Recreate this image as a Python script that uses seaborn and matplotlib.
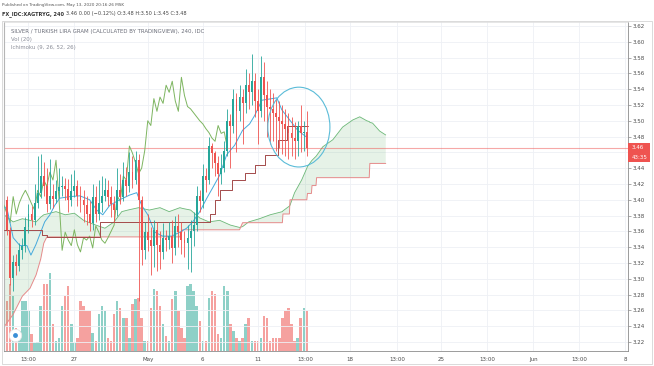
import numpy as np
import pandas as pd
import seaborn as sns
import matplotlib.pyplot as plt
import matplotlib.transforms as mtransforms
from matplotlib.patches import Ellipse, Rectangle

# 4h bars, bar 0 = May 1 00:00 (weekends skipped)
first_bar = -46
first_open = 3.400
close = [3.362, 3.301, 3.321, 3.316, 3.336, 3.341, 3.366, 3.382, 3.374, 3.396,
         3.409, 3.430, 3.417, 3.395, 3.405, 3.401, 3.411, 3.416, 3.417, 3.414,
         3.400, 3.411, 3.417, 3.405, 3.400, 3.393, 3.382, 3.371, 3.404, 3.382,
         3.396, 3.405, 3.412, 3.404, 3.395, 3.387, 3.412, 3.404, 3.425, 3.417,
         3.435, 3.425, 3.450, 3.400, 3.336, 3.359, 3.349, 3.342, 3.362, 3.343,
         3.334, 3.352, 3.349, 3.354, 3.339, 3.367, 3.359, 3.349, 3.345, 3.352,
         3.360, 3.368, 3.405, 3.398, 3.430, 3.425, 3.468, 3.459, 3.447, 3.433,
         3.440, 3.462, 3.500, 3.494, 3.528, 3.512, 3.530, 3.522, 3.545, 3.536,
         3.550, 3.525, 3.512, 3.555, 3.532, 3.518, 3.515, 3.510, 3.505, 3.500,
         3.496, 3.490, 3.485, 3.478, 3.474, 3.494, 3.484, 3.486, 3.466]
high = [3.405, 3.366, 3.330, 3.332, 3.345, 3.352, 3.378, 3.395, 3.392, 3.420,
        3.455, 3.458, 3.448, 3.440, 3.452, 3.420, 3.425, 3.440, 3.430, 3.428,
        3.426, 3.432, 3.438, 3.425, 3.418, 3.412, 3.405, 3.398, 3.420, 3.418,
        3.425, 3.430, 3.428, 3.425, 3.418, 3.405, 3.440, 3.432, 3.448, 3.442,
        3.460, 3.455, 3.462, 3.458, 3.405, 3.372, 3.382, 3.365, 3.375, 3.372,
        3.360, 3.370, 3.362, 3.372, 3.375, 3.380, 3.382, 3.372, 3.360, 3.368,
        3.375, 3.385, 3.418, 3.412, 3.445, 3.440, 3.480, 3.472, 3.462, 3.455,
        3.458, 3.475, 3.515, 3.508, 3.540, 3.535, 3.545, 3.540, 3.565, 3.560,
        3.585, 3.560, 3.540, 3.582, 3.575, 3.550, 3.540, 3.535, 3.528, 3.525,
        3.520, 3.515, 3.510, 3.505, 3.498, 3.500, 3.520, 3.500, 3.512]
low = [3.356, 3.292, 3.285, 3.305, 3.310, 3.325, 3.334, 3.358, 3.365, 3.368,
       3.390, 3.402, 3.405, 3.385, 3.388, 3.390, 3.396, 3.402, 3.405, 3.400,
       3.385, 3.392, 3.403, 3.392, 3.385, 3.372, 3.368, 3.360, 3.362, 3.372,
       3.375, 3.385, 3.398, 3.392, 3.378, 3.372, 3.380, 3.395, 3.398, 3.405,
       3.410, 3.415, 3.420, 3.272, 3.318, 3.325, 3.335, 3.305, 3.315, 3.310,
       3.312, 3.325, 3.335, 3.338, 3.320, 3.330, 3.340, 3.332, 3.328, 3.312,
       3.308, 3.342, 3.360, 3.385, 3.390, 3.410, 3.420, 3.440, 3.430, 3.405,
       3.420, 3.435, 3.455, 3.440, 3.485, 3.460, 3.500, 3.470, 3.510, 3.515,
       3.520, 3.505, 3.470, 3.505, 3.500, 3.480, 3.470, 3.475, 3.462, 3.465,
       3.458, 3.455, 3.452, 3.455, 3.452, 3.455, 3.460, 3.462, 3.455]
volume = [50, 67, 55, 23, 20, 50, 50, 40, 17, 8,
          9, 45, 67, 67, 78, 27, 10, 13, 45, 55,
          65, 27, 8, 13, 50, 45, 40, 40, 18, 10,
          37, 45, 40, 13, 10, 37, 50, 43, 33, 33,
          13, 47, 52, 53, 33, 10, 10, 43, 62, 60,
          45, 27, 15, 10, 52, 60, 40, 23, 13, 65,
          67, 60, 45, 30, 10, 10, 53, 60, 57, 17,
          13, 65, 60, 27, 20, 13, 10, 13, 27, 33,
          10, 10, 10, 13, 35, 33, 10, 13, 13, 13,
          33, 40, 43, 27, 10, 13, 33, 43, 40]

# Ichimoku (9, 26, 52, 26) lines
tenkan_x = [-46.7, -45.8, -44, -41.8, -39.5, -38.2, -36.6, -35, -33.7, -32,
            -30.4, -28.8, -25.5, -22.2, -19, -16.7, -14.7, -12.4, -9.2, -5.9,
            -3.6, -2, 0, 2.3, 4.9, 7.8, 10.5, 12.7, 14.7, 17,
            19.3, 21.2, 23.5, 25.8, 28.4, 31, 33.3, 35, 37.3, 42.2,
            43.8, 46.4, 49, 52]
tenkan = [3.391, 3.385, 3.352, 3.342, 3.342, 3.330, 3.343, 3.359, 3.372, 3.381,
          3.393, 3.402, 3.404, 3.405, 3.400, 3.387, 3.381, 3.393, 3.400, 3.406,
          3.409, 3.393, 3.381, 3.359, 3.354, 3.354, 3.359, 3.364, 3.372, 3.385,
          3.402, 3.415, 3.431, 3.457, 3.469, 3.488, 3.496, 3.507, 3.526, 3.529,
          3.514, 3.501, 3.488, 3.479]
kijun_x = [-47, -34.6, -33, -15.7, 20.3, 21.9, 23.5, 27.5, 31.7, 35, 38.2, 42.5, 45.4, 52.5]
kijun = [3.362, 3.356, 3.353, 3.372, 3.382, 3.400, 3.412, 3.425, 3.434, 3.444, 3.457, 3.476, 3.493, 3.493]
cloud_x = [-47, -44, -41, -38.5, -36.5, -35, -34, -33, -30, -27,
           -24, -21, -17, -14, -11, -8.5, -6.5, -3, 0.5, 4,
           7, 10.5, 11.4, 14, 17, 20, 23.5, 27, 30, 31,
           33, 36.5, 40, 44, 44.2, 46.3, 46.5, 48, 50.3, 52,
           52.2, 53.5, 53.7, 55, 55.2, 57.2, 60.5, 63.7, 67, 69.3,
           71.6, 72.4, 72.6, 73.5, 75.8, 77.8]
span_a = [3.381, 3.372, 3.376, 3.374, 3.372, 3.378, 3.381, 3.382, 3.385, 3.381,
          3.383, 3.374, 3.368, 3.364, 3.372, 3.385, 3.387, 3.390, 3.387, 3.390,
          3.385, 3.390, 3.389, 3.387, 3.377, 3.372, 3.374, 3.368, 3.365, 3.366,
          3.372, 3.376, 3.381, 3.385, 3.386, 3.392, 3.393, 3.409, 3.425, 3.440,
          3.442, 3.449, 3.450, 3.455, 3.456, 3.467, 3.476, 3.492, 3.501, 3.505,
          3.500, 3.499, 3.498, 3.497, 3.487, 3.482]
span_b = [3.239, 3.255, 3.278, 3.288, 3.305, 3.325, 3.345, 3.353, 3.353, 3.353,
          3.353, 3.353, 3.353, 3.353, 3.353, 3.353, 3.353, 3.353, 3.353, 3.353,
          3.353, 3.353, 3.362, 3.362, 3.362, 3.362, 3.362, 3.362, 3.362, 3.371,
          3.371, 3.371, 3.371, 3.371, 3.382, 3.382, 3.400, 3.400, 3.400, 3.400,
          3.408, 3.408, 3.418, 3.418, 3.428, 3.428, 3.428, 3.428, 3.428, 3.428,
          3.428, 3.428, 3.446, 3.446, 3.446, 3.446]
chikou_shift = 26

price_ticks = [3.22, 3.24, 3.26, 3.28, 3.30, 3.32, 3.34, 3.36, 3.38, 3.40, 3.42,
               3.44, 3.46, 3.48, 3.50, 3.52, 3.54, 3.56, 3.58, 3.60, 3.62]
date_ticks = [-39, -24, 0, 18, 36, 51.5, 66, 81.5, 96, 111, 126, 141, 156]
date_labels = ["13:00", "27", "May", "6", "11", "13:00", "18", "13:00", "25",
               "13:00", "Jun", "13:00", "8"]
last_price = 3.466

# dataframe
n = len(close)
df = pd.DataFrame({"bar": np.arange(first_bar, first_bar + n), "close": close,
                   "high": high, "low": low, "volume": volume})
df["open"] = [first_open] + close[:-1]
df["dir"] = np.where(df["close"] >= df["open"], "up", "down")

up_c, down_c = "#26a69a", "#ef5350"

sns.set_style("white")
plt.rcParams["font.family"] = ["DejaVu Sans"]

W, H = 654, 366
fig = plt.figure(figsize=(W / 100, H / 100), dpi=100)
ax = fig.add_axes([4 / W, 15 / H, 624 / W, 329 / H])
axv = ax.twinx()
ax.set_zorder(axv.get_zorder() + 1)
ax.patch.set_visible(False)

# volume (own scale underneath the price pane)
vol_colors = np.where(df["dir"] == "up", "#8ed0c7", "#f5a19f")
axv.bar(df["bar"], df["volume"], width=0.8, color=vol_colors, lw=0)
axv.set_ylim(0, 329)
axv.set_yticks([])
for s in axv.spines.values():
    s.set_visible(False)

# cloud
ca, cb = np.array(span_a), np.array(span_b)
ax.fill_between(cloud_x, ca, cb, where=ca >= cb, interpolate=True,
                color="#43a047", alpha=0.13, lw=0, zorder=1)
ax.fill_between(cloud_x, ca, cb, where=ca < cb, interpolate=True,
                color="#f44336", alpha=0.13, lw=0, zorder=1)
sns.lineplot(x=cloud_x, y=span_a, color="#6cb878", lw=0.6, ax=ax, zorder=2)
sns.lineplot(x=cloud_x, y=span_b, color="#e58a8a", lw=0.7, ax=ax, zorder=2)

# lagging span, conversion and base lines
sns.lineplot(x=df["bar"] - chikou_shift, y=df["close"], color="#7db560", lw=0.7,
             ax=ax, zorder=3)
sns.lineplot(x=tenkan_x, y=tenkan, color="#45a9dc", lw=0.7, ax=ax, zorder=3)
sns.lineplot(x=kijun_x, y=kijun, color="#a34a4a", lw=0.7, drawstyle="steps-post",
             ax=ax, zorder=3)

# candles
colors = np.where(df["dir"] == "up", up_c, down_c)
ax.vlines(df["bar"], df["low"], df["high"], colors=colors, lw=0.6, zorder=4)
body_lo = np.minimum(df["open"], df["close"])
body_h = np.maximum(np.abs(df["close"] - df["open"]), 0.0015)
ax.bar(df["bar"], body_h, bottom=body_lo, width=0.62, color=colors, lw=0, zorder=5)

# last price line and hand drawn circle
ax.axhline(last_price, color="#ef5350", lw=0.8, alpha=0.5, zorder=2)
ax.add_patch(Ellipse((49.4, 3.492), 20.3, 0.101, fill=False, ec="#5bbcd8",
                     lw=0.8, zorder=6))

# tradingview logo
ax.plot([-43.5], [3.229], marker="o", ms=9, mfc="white", mec="#e4e4e4", mew=0.5,
        zorder=7, clip_on=False)
ax.plot([-43.5], [3.229], marker="o", ms=3.5, mfc="#3a8fd6", mec="none", zorder=8)

ax.set_xlim(-47, 157)
ax.set_ylim(3.2086, 3.625)
ax.set_xticks(date_ticks)
ax.set_xticklabels(date_labels)
ax.set_yticks(price_ticks)
ax.set_yticklabels([f"{v:.2f}" for v in price_ticks])
ax.yaxis.tick_right()
ax.set_xlabel("")
ax.set_ylabel("")
ax.grid(True, color="#eef0f5", lw=0.6)
ax.tick_params(axis="y", labelsize=4, length=2, width=0.5, color="#888",
               pad=1.5, labelcolor="#4a4a4a")
ax.tick_params(axis="x", labelsize=4, length=0, pad=4, labelcolor="#4a4a4a")
for side in ["right", "bottom"]:
    ax.spines[side].set_color("#8c8c8c")
    ax.spines[side].set_linewidth(0.6)
ax.spines["left"].set_color("#b5b5b5")
ax.spines["left"].set_linewidth(0.8)
ax.spines["top"].set_color("#dcdcdc")
ax.spines["top"].set_linewidth(0.5)

# price label on the scale
trans = mtransforms.blended_transform_factory(ax.transAxes, ax.transData)
ax.add_patch(Rectangle((1.0, 3.448), 0.036, 0.024, transform=trans, fc="#ef5350",
                       ec="none", clip_on=False, zorder=9))
ax.text(1.006, 3.466, "3.46", transform=trans, fontsize=4, color="white",
        va="center", ha="left", zorder=10)
ax.text(1.006, 3.454, "43:35", transform=trans, fontsize=4, color="white",
        va="center", ha="left", zorder=10)

# legend text inside the chart
ax.text(7 / 624, 1 - 9 / 329, "SILVER / TURKISH LIRA GRAM (CALCULATED BY TRADINGVIEW), 240, IDC",
        transform=ax.transAxes, fontsize=3.9, color="#6a6d78", va="center", ha="left")
ax.text(7 / 624, 1 - 18 / 329, "Vol (20)", transform=ax.transAxes, fontsize=3.9,
        color="#8a8d98", va="center", ha="left")
ax.text(7 / 624, 1 - 26 / 329, "Ichimoku (9, 26, 52, 26)", transform=ax.transAxes,
        fontsize=3.9, color="#8a8d98", va="center", ha="left")

# header
fig.text(2 / W, 1 - 5 / H, "Published on TradingView.com, May 13, 2020 20:16:26 MSK",
         fontsize=3.0, color="#555555", va="center", ha="left")
fig.text(2 / W, 1 - 14 / H, "FX_IDC:XAGTRYG, 240", fontsize=3.6, color="#333333",
         fontweight="bold", va="center", ha="left")
fig.text(66 / W, 1 - 14 / H, "3.46 0.00 (\u22120.12%) O:3.48 H:3.50 L:3.45 C:3.48",
         fontsize=3.6, color="#444444", va="center", ha="left")

fig.add_artist(Rectangle((2 / W, 2 / H), 650 / W, 343 / H, transform=fig.transFigure,
                         fill=False, ec="#d4d4d4", lw=0.6))

fig.savefig("out.png", dpi=100)
